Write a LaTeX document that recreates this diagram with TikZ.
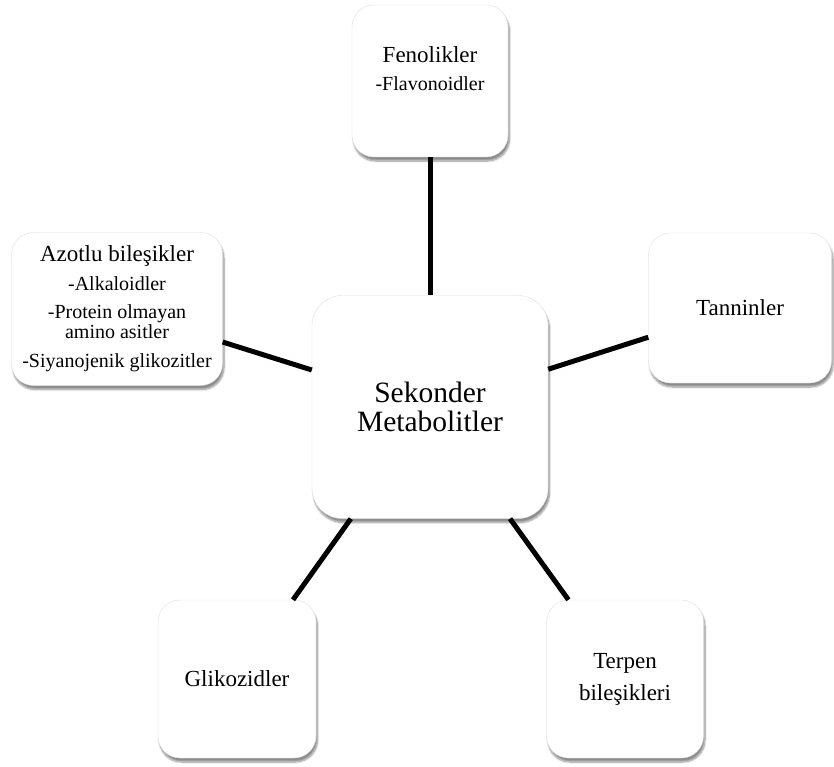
\documentclass[tikz,border=0pt]{standalone}
\usepackage{fontspec}
\setmainfont{Liberation Serif}
\usetikzlibrary{shadows.blur}
\tikzstyle{box}=[rectangle,draw=gray!25,fill=white,rounded corners=22pt,inner sep=0pt,align=center,text centered,blur shadow={shadow xshift=1.5pt,shadow yshift=-4pt,shadow opacity=45,shadow blur steps=8}]
\tikzstyle{group}=[box,font=\fontsize{23}{20}\selectfont]
\tikzstyle{hub}=[box,rounded corners=30pt,font=\fontsize{29.5}{29}\selectfont]
\tikzstyle{link}=[line width=5pt]
\newcommand{\subtxt}[1]{{\fontsize{20}{20}\selectfont #1}}

\begin{document}
\begin{tikzpicture}[x=1pt,y=-1pt]

\useasboundingbox (0,0) rectangle (834,767) ;

\node (sek) [hub,minimum width=236pt,minimum height=223pt] at (430,407) {Sekonder\\Metabolitler} ;
\node (fenol) [group,minimum width=156pt,minimum height=152pt,text depth=25pt] at (430,81) {Fenolikler\\[8pt]\subtxt{-Flavonoidler}} ;
\node (azot) [group,minimum width=211pt,minimum height=153pt] at (117,309) {Azotlu bileşikler\\[9pt]\subtxt{-Alkaloidler}\\[8pt]\subtxt{-Protein olmayan}\\\subtxt{amino asitler}\\[9pt]\subtxt{-Siyanojenik glikozitler}} ;
\node (tann) [group,minimum width=183pt,minimum height=150pt] at (740,308) {Tanninler} ;
\node (gliko) [group,minimum width=158pt,minimum height=158pt] at (237,679) {Glikozidler} ;
\node (terp) [group,minimum width=157pt,minimum height=158pt] at (625,679) {Terpen\\[10pt]bileşikleri} ;

\draw [link] (sek) -- (fenol) ;
\draw [link] (sek) -- (azot) ;
\draw [link] (sek) -- (tann) ;
\draw [link] (sek) -- (gliko) ;
\draw [link] (sek) -- (terp) ;

\end{tikzpicture}
\end{document}
